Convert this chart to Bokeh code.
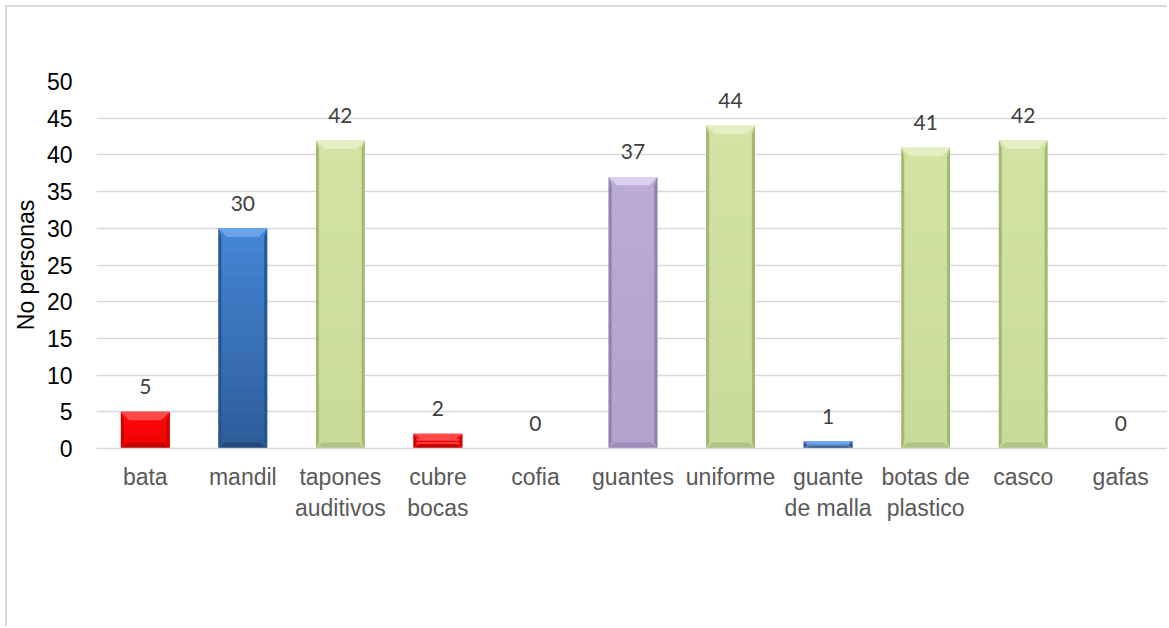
from bokeh.plotting import figure
from bokeh.models import FixedTicker
from bokeh.core.properties import value
from bokeh.embed import file_html
from bokeh.resources import INLINE

# --- data -------------------------------------------------------------
categorias = ["bata", "mandil", "tapones\nauditivos", "cubre\nbocas", "cofia",
              "guantes", "uniforme", "guante\nde malla", "botas de\nplastico",
              "casco", "gafas"]
personas = [5, 30, 42, 2, 0, 37, 44, 1, 41, 42, 0]
tonos = ["rojo", "azul", "verde", "rojo", "rojo", "morado", "verde", "azul",
         "verde", "verde", "rojo"]
y_ticks = [0, 5, 10, 15, 20, 25, 30, 35, 40, 45, 50]

# colour scheme per tone: body top, body bottom, top face, side faces, bottom face
paleta = {
    "rojo":   ("#FF0A0A", "#F20000", "#FF5050", "#C80000", "#C00000"),
    "azul":   ("#4587D6", "#2D5D98", "#6FA6EA", "#285290", "#21477A"),
    "verde":  ("#D2E3A4", "#C9DB9A", "#E6F1C6", "#9FB46F", "#ADC184"),
    "morado": ("#BBACD4", "#B2A2CC", "#E0D4F2", "#8C7DAA", "#9A8AB8"),
}


def mezcla(c1, c2, t):
    a = [int(c1[i:i + 2], 16) for i in (1, 3, 5)]
    b = [int(c2[i:i + 2], 16) for i in (1, 3, 5)]
    return "#" + "".join(f"{round(a[k] + (b[k] - a[k]) * t):02x}" for k in range(3))


p = figure(width=1162, height=621, x_range=(-0.5, 10.5), y_range=(0, 50),
           output_backend="svg", toolbar_location=None,
           min_border_left=89, min_border_right=0, min_border_top=74,
           min_border_bottom=180)
p.styles = {"margin-left": "5px", "margin-top": "5px",
            "border-left": "2px solid #d9d9d9", "border-top": "2px solid #d9d9d9"}
p.outline_line_color = None
p.background_fill_color = "white"
p.border_fill_color = "white"

# --- axes ---------------------------------------------------------------
p.xgrid.grid_line_color = None
p.ygrid.grid_line_color = "#d9d9d9"
p.ygrid.grid_line_width = 1.3

p.xaxis.ticker = FixedTicker(ticks=list(range(len(categorias))))
p.xaxis.major_label_overrides = {i: c for i, c in enumerate(categorias)}
p.xaxis.major_label_text_font = "Liberation Sans"
p.xaxis.major_label_text_font_size = "23px"
p.xaxis.major_label_text_color = "#595959"
p.xaxis.major_label_standoff = 9
p.xaxis.major_tick_line_color = None
p.xaxis.minor_tick_line_color = None
p.xaxis.axis_line_color = "#d9d9d9"
p.xaxis.axis_line_width = 1.3

p.yaxis.ticker = FixedTicker(ticks=y_ticks)
p.yaxis.major_label_text_font = "Liberation Sans"
p.yaxis.major_label_text_font_size = "23px"
p.yaxis.major_label_text_color = "#000000"
p.yaxis.major_label_standoff = 18
p.yaxis.major_tick_line_color = None
p.yaxis.minor_tick_line_color = None
p.yaxis.axis_line_color = None
p.yaxis.axis_label = "No personas"
p.yaxis.axis_label_text_font = "Liberation Sans"
p.yaxis.axis_label_text_font_size = "23px"
p.yaxis.axis_label_text_font_style = "normal"
p.yaxis.axis_label_text_color = "#000000"
p.yaxis.axis_label_standoff = 5

# --- bevelled bars -------------------------------------------------------
half = 0.25          # half bar width (bar = half the category band)
lado = 0.031         # width of the shaded side faces
inset_sup = 0.085    # horizontal inset of the top chamfer
inset_inf = 0.062    # horizontal inset of the bottom chamfer
n_capas = 18         # slices for the vertical colour gradient

q_l, q_r, q_t, q_b, q_c = [], [], [], [], []
f_xs, f_ys, f_c = [], [], []

for i, (v, tono) in enumerate(zip(personas, tonos)):
    if v <= 0:
        continue
    c_top, c_bot, c_cara, c_lado, c_base = paleta[tono]
    x0, x1 = i - half, i + half
    # body with vertical gradient
    for k in range(n_capas):
        y_lo = v * k / n_capas
        y_hi = min(v, v * (k + 1) / n_capas + v * 0.01)
        q_l.append(x0)
        q_r.append(x1)
        q_b.append(y_lo)
        q_t.append(y_hi)
        q_c.append(mezcla(c_bot, c_top, (k + 0.5) / n_capas))
    ht = min(1.15, v * 0.38)
    hb = min(0.82, v * 0.3)
    # side faces
    f_xs.append([x0, x0 + lado, x0 + lado, x0])
    f_ys.append([0, hb, v - ht, v])
    f_c.append(c_lado)
    f_xs.append([x1, x1 - lado, x1 - lado, x1])
    f_ys.append([0, hb, v - ht, v])
    f_c.append(c_lado)
    # bottom chamfer
    f_xs.append([x0, x1, x1 - inset_inf, x0 + inset_inf])
    f_ys.append([0, 0, hb, hb])
    f_c.append(c_base)
    # top chamfer
    f_xs.append([x0, x1, x1 - inset_sup, x0 + inset_sup])
    f_ys.append([v, v, v - ht, v - ht])
    f_c.append(c_cara)

p.quad(left=q_l, right=q_r, top=q_t, bottom=q_b, fill_color=q_c, line_color=None)
p.patches(xs=f_xs, ys=f_ys, fill_color=f_c, line_color=None, fill_alpha=0.9)

# --- value labels ----------------------------------------------------------
p.text(x=list(range(len(personas))), y=personas, text=[str(v) for v in personas],
       text_align="center", text_baseline="alphabetic", y_offset=-25,
       text_font=value("Lato"), text_font_size="21px", text_color="#404040")

open("out.html", "w").write(file_html(p, INLINE))
